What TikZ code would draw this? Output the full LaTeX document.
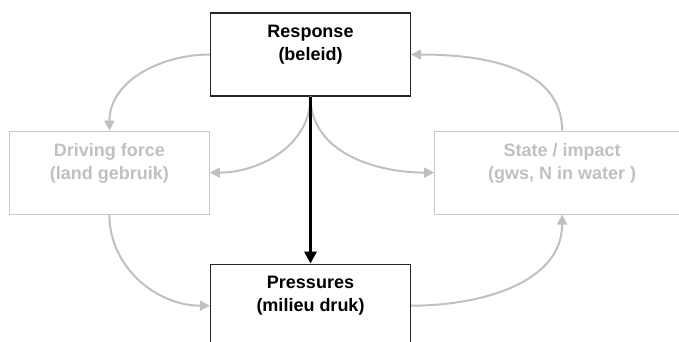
\documentclass[tikz,border=0pt]{standalone}
\usepackage{fontspec}
\setmainfont{Liberation Sans}
\usetikzlibrary{arrows.meta,positioning}
\definecolor{linkgrey}{RGB}{192,192,192}
\definecolor{boxgrey}{RGB}{200,200,200}
\tikzset{
  dpsir/.style={rectangle, minimum width=200pt, minimum height=83pt, inner sep=0pt,
    align=center, font=\bfseries\fontsize{18}{23}\selectfont},
  active/.style={dpsir, draw=black!85, line width=1.2pt},
  faded/.style={dpsir, draw=boxgrey, line width=1pt, text=linkgrey},
  link/.style={-{Triangle[length=10pt,width=10pt]}, linkgrey, line width=2pt},
}

\begin{document}
\begin{tikzpicture}[x=1pt,y=1pt]
      \useasboundingbox (0,0) rectangle (679,-342);
      \clip (0,0) rectangle (679,-342);
      % box set with absolute and relative coordinates
      \node[active] (resp) at (310.5,-54.5) {Response\\(beleid)\\~};
      \node[active] (press) [below =167pt of resp] {Pressures\\(milieu druk)\\~};
      \node[faded] (drive) [below left =34pt and 0pt of resp] {Driving force\\(land gebruik)\\~};
      \node[faded, minimum width=255pt] (state) [below right =34pt and 23pt of resp] {State / impact\\(gws, N in water )\\~};
      % grey feedback loops
      \draw [link] (resp.west) to[out=180, in=90] (drive.north);
      \draw [link] (resp.south) to[out=-90, in=0] (drive.east);
      \draw [link] (resp.south) to[out=-90, in=180] (state.west);
      \draw [link] (state.north) to[out=90, in=0] (resp.east);
      \draw [link] (drive.south) to[out=-90, in=180] (press.west);
      \draw [link] (press.east) to[out=0, in=-90] (state.south);
      % main directed edge
      \draw [-{Triangle[length=12pt,width=12pt]}, line width=3pt] (resp.south) -- (press.north);
\end{tikzpicture}
\end{document}
